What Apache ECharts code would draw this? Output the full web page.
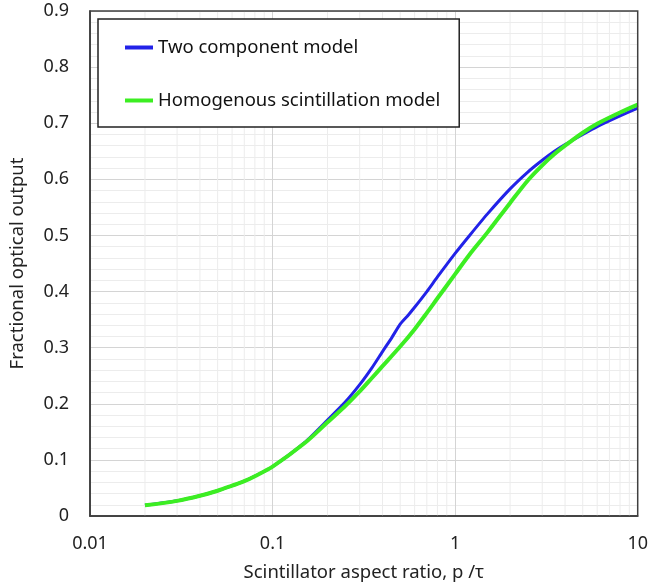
<!DOCTYPE html>
<html>
<head>
<meta charset="utf-8">
<script src="https://cdn.jsdelivr.net/npm/echarts@6/dist/echarts.min.js"></script>
<style>html,body{margin:0;padding:0;background:#fff}#c{width:651px;height:587px}</style>
</head>
<body>
<div id="c"></div>
<script>
// Data
var twoCompX = [0.02, 0.03, 0.04, 0.05, 0.06, 0.07, 0.08, 0.1, 0.15, 0.2, 0.25, 0.3, 0.35, 0.4, 0.45, 0.5, 0.55, 0.6, 0.7, 0.8, 1, 1.2, 1.5, 2, 2.5, 3, 3.5, 4, 5, 6, 8, 10];
var twoCompY = [0.019, 0.027, 0.036, 0.045, 0.054, 0.062, 0.071, 0.088, 0.131, 0.171, 0.203, 0.234, 0.264, 0.293, 0.318, 0.342, 0.357, 0.372, 0.400, 0.426, 0.468, 0.500, 0.538, 0.583, 0.613, 0.634, 0.650, 0.662, 0.680, 0.694, 0.713, 0.727];
var homoX = [0.02, 0.03, 0.04, 0.05, 0.06, 0.07, 0.08, 0.1, 0.15, 0.2, 0.25, 0.3, 0.35, 0.4, 0.5, 0.6, 0.7, 0.8, 1, 1.2, 1.5, 2, 2.5, 3, 3.5, 4, 5, 6, 8, 10];
var homoY = [0.019, 0.027, 0.036, 0.045, 0.054, 0.062, 0.071, 0.088, 0.130, 0.167, 0.196, 0.222, 0.246, 0.267, 0.302, 0.333, 0.362, 0.388, 0.431, 0.466, 0.505, 0.558, 0.598, 0.625, 0.645, 0.660, 0.683, 0.699, 0.719, 0.733];
var seriesNames = ['Two component model', 'Homogenous scintillation model'];
var minorGridX = [0.02,0.03,0.04,0.05,0.06,0.07,0.08,0.09,0.2,0.3,0.4,0.5,0.6,0.7,0.8,0.9,2,3,4,5,6,7,8,9];
var xTitle = 'Scintillator aspect ratio, p /\u03c4';
var yTitle = 'Fractional optical output';

function zip(xs, ys){ return xs.map(function(x,i){ return [x, ys[i]]; }); }

var FONT = 'Noto Sans';
var chart = echarts.init(document.getElementById('c'), null, {renderer:'canvas'});
chart.setOption({
  animation: false,
  textStyle: {fontFamily: FONT},
  grid: {left: 88, right: 12, top: 11, bottom: 71, show: true, borderColor: '#404040', borderWidth: 1.5, backgroundColor: 'transparent', z: 10},
  legend: {
    show: true, orient: 'vertical', left: 98, top: 19,
    data: [{name: seriesNames[0], icon: 'rect'}, {name: seriesNames[1], icon: 'rect'}],
    itemWidth: 28, itemHeight: 4, itemGap: 34,
    padding: [19, 19, 17, 27],
    borderColor: '#222', borderWidth: 1.5, backgroundColor: '#fff',
    textStyle: {fontFamily: FONT, fontSize: 18.5, color: '#111'}
  },
  xAxis: {
    type: 'log', logBase: 10, min: 0.01, max: 10,
    name: xTitle, nameLocation: 'middle', nameGap: 47,
    nameTextStyle: {fontFamily: FONT, fontSize: 18.5, color: '#222'},
    axisLine: {show: true, lineStyle: {color: '#222', width: 1.5}},
    axisTick: {show: false},
    axisLabel: {fontFamily: FONT, fontSize: 18, color: '#222', margin: 19},
    splitLine: {show: true, lineStyle: {color: '#d4d4d4', width: 1}}
  },
  yAxis: {
    type: 'value', min: 0, max: 0.9, interval: 0.1,
    name: yTitle, nameLocation: 'middle', nameGap: 63,
    nameTextStyle: {fontFamily: FONT, fontSize: 18.5, color: '#222'},
    axisLine: {show: true, lineStyle: {color: '#222', width: 1.5}},
    axisTick: {show: false},
    axisLabel: {fontFamily: FONT, fontSize: 18, color: '#222', margin: 21},
    splitLine: {show: true, lineStyle: {color: '#d4d4d4', width: 1}},
    minorTick: {show: false, splitNumber: 5},
    minorSplitLine: {show: true, lineStyle: {color: '#ececec', width: 1}}
  },
  series: [
    {
      type: 'custom', name: 'minorGrid', silent: true, z: 1,
      data: minorGridX.map(function(v){ return [v]; }),
      encode: {x: 0},
      renderItem: function(params, api){
        var x = api.value(0);
        var p0 = api.coord([x, 0]);
        var p1 = api.coord([x, 0.9]);
        return {type: 'line', shape: {x1: p0[0], y1: p0[1], x2: p1[0], y2: p1[1]}, style: {stroke: '#ececec', lineWidth: 1}};
      }
    },
    {
      type: 'line', name: seriesNames[0], data: zip(twoCompX, twoCompY),
      showSymbol: false, smooth: 0.2, z: 3,
      itemStyle: {color: '#2222e8'},
      lineStyle: {color: '#2222e8', width: 3}
    },
    {
      type: 'line', name: seriesNames[1], data: zip(homoX, homoY),
      showSymbol: false, smooth: 0.3, z: 4,
      itemStyle: {color: '#3cee22'},
      lineStyle: {color: '#3cee22', width: 4}
    }
  ]
});
</script>
</body>
</html>
